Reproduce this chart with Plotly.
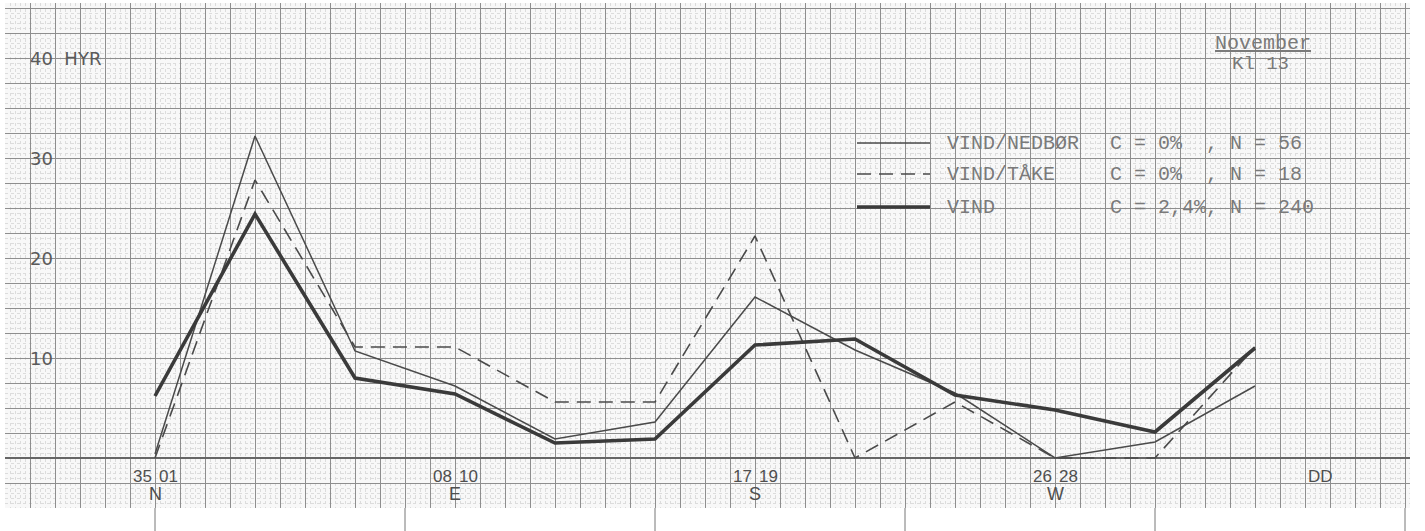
import plotly.graph_objects as go

# Wind direction sectors (30 degree groups) and frequencies in percent
sectors = ["35 01", "02 04", "05 07", "08 10", "11 13", "14 16",
           "17 19", "20 22", "23 25", "26 28", "29 31", "32 34"]
labelled = ["35 01", "08 10", "17 19", "26 28"]
compass = ["N", "E", "S", "W"]

vind_nedbor = [0.4, 32.2, 10.7, 7.2, 1.9, 3.6, 16.1, 10.8, 6.5, 0.0, 1.6, 7.2]
vind_take = [0.0, 27.8, 11.1, 11.1, 5.6, 5.6, 22.2, 0.0, 5.6, 0.0, 0.0, 11.1]
vind = [6.2, 24.4, 8.0, 6.4, 1.5, 1.9, 11.3, 11.9, 6.3, 4.8, 2.6, 11.0]

series_names = ["VIND/NEDBØR", "VIND/TÅKE", "VIND"]
series_stats = ["C = 0%  , N = 56", "C = 0%  , N = 18", "C = 2,4%, N = 240"]

y_ticks = [10, 20, 30, 40]
y_unit = "HYR"
month = "November"
hour = "Kl 13"

INK = "#4a4a4a"
TYPE = "#7a7a7a"
GRID = "#8e8e8e"

xs = list(range(len(sectors)))

styles = [
    dict(color=INK, width=1.5, dash="solid"),
    dict(color=INK, width=1.6, dash="14px,8px"),
    dict(color="#3a3a3a", width=3.6, dash="solid"),
]

fig = go.Figure()
for name, vals, st in zip(series_names, [vind_nedbor, vind_take, vind], styles):
    fig.add_trace(go.Scatter(x=xs, y=vals, mode="lines", name=name,
                             line=st, showlegend=False, hoverinfo="skip"))

annotations = []
# value labels written on the left of the sheet
for t in y_ticks:
    txt = f"{t}  {y_unit}" if t == y_ticks[-1] else str(t)
    annotations.append(dict(x=-1.27, y=t, text=txt, xanchor="left", yanchor="middle",
                            showarrow=False,
                            font=dict(family="DejaVu Sans", size=18, color="#5a5a5a")))

# sector labels under the base line
LAB_FONT = dict(family="Liberation Sans", size=17, color="#4f4f4f")
for lab, c in zip(labelled, compass):
    i = sectors.index(lab)
    a, b = lab.split()
    annotations.append(dict(x=i, y=-1.8, text=a, xanchor="right", xshift=-1,
                            showarrow=False, font=LAB_FONT))
    annotations.append(dict(x=i, y=-1.8, text=b, xanchor="left", xshift=2,
                            showarrow=False, font=LAB_FONT))
    annotations.append(dict(x=i, y=-3.6, text=c, xanchor="center", showarrow=False,
                            font=dict(family="Liberation Sans", size=18, color="#4f4f4f")))
annotations.append(dict(x=11.65, y=-1.8, text="DD", xanchor="center", showarrow=False,
                        font=LAB_FONT))

# legend block
legend_rows = [31.5, 28.4, 25.1]
shapes = []
for name, stat, st, yy in zip(series_names, series_stats, styles, legend_rows):
    shapes.append(dict(type="line", xref="x", yref="y", x0=7.02, x1=7.75, y0=yy, y1=yy,
                       line=dict(color=st["color"], width=st["width"], dash=st["dash"])))
    annotations.append(dict(x=7.9, y=yy, text=name, xanchor="left", yanchor="middle",
                            showarrow=False,
                            font=dict(family="Liberation Mono", size=20, color=TYPE)))
    annotations.append(dict(x=9.53, y=yy, text=stat.replace(" ", "&nbsp;"),
                            xanchor="left", yanchor="middle", showarrow=False,
                            font=dict(family="Liberation Mono", size=20, color=TYPE)))

annotations.append(dict(x=11.08, y=41.5, text=f"<u>{month}</u>", xanchor="center",
                        yanchor="middle", showarrow=False,
                        font=dict(family="Liberation Mono", size=20, color=TYPE)))
annotations.append(dict(x=11.05, y=39.4, text=hour, xanchor="center", yanchor="middle",
                        showarrow=False,
                        font=dict(family="Liberation Mono", size=19, color=TYPE)))

# long rulings that run past the bottom edge of the sheet
for xv in [0, 2.5, 5, 7.5, 10, 12.5]:
    shapes.append(dict(type="line", xref="x", yref="paper", x0=xv, x1=xv,
                       y0=-0.046, y1=0, line=dict(color="#777", width=1)))

fig.update_layout(
    width=1425, height=531,
    margin=dict(l=5, r=15, t=3, b=23),
    paper_bgcolor="white",
    plot_bgcolor="#f8f8f8",
    annotations=annotations,
    shapes=shapes,
    xaxis=dict(range=[-1.5, 12.55], tick0=0, dtick=0.25, showgrid=True,
               gridcolor=GRID, gridwidth=1, zeroline=False, showticklabels=False,
               ticks="", fixedrange=True,
               minor=dict(tick0=0, dtick=0.05, showgrid=True, gridcolor="#dcdcdc",
                          griddash="dot", gridwidth=1)),
    yaxis=dict(range=[-5.0, 45.5], tick0=0, dtick=2.5, showgrid=True,
               gridcolor=GRID, gridwidth=1, zeroline=True, zerolinecolor="#666",
               zerolinewidth=2, showticklabels=False, ticks="", fixedrange=True,
               minor=dict(tick0=0, dtick=0.5, showgrid=True, gridcolor="#dcdcdc",
                          griddash="dot", gridwidth=1)),
)

fig.write_html("out.html")
